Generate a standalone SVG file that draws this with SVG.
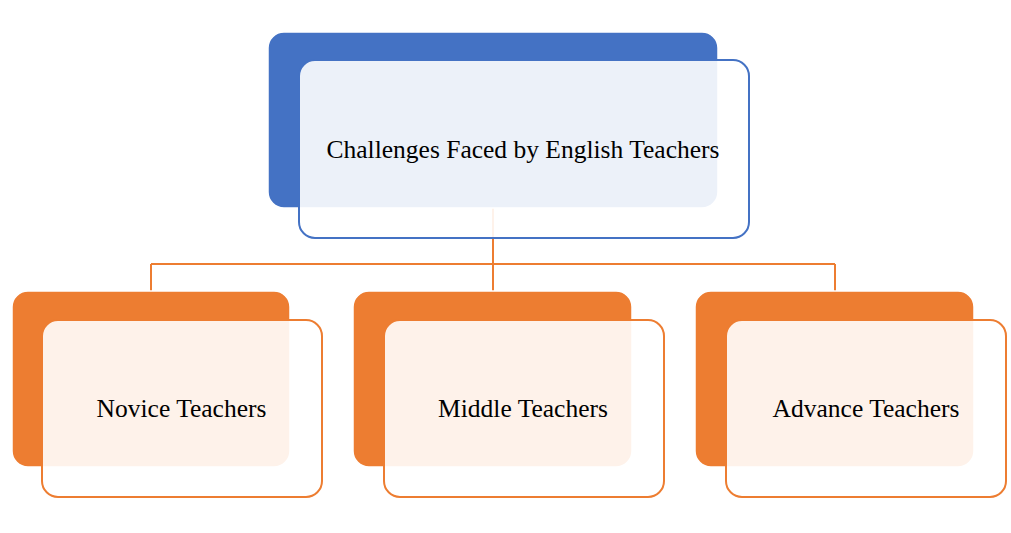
<svg xmlns="http://www.w3.org/2000/svg" width="1011" height="533" viewBox="0 0 1011 533">
<style>
.bg{fill:#ffffff}
.backB{fill:#4472C4;stroke:#ffffff;stroke-width:1.5}
.frontB{fill:#ffffff;fill-opacity:0.9;stroke:#4472C4;stroke-width:2}
.backO{fill:#ED7D31;stroke:#ffffff;stroke-width:1.5}
.frontO{fill:#ffffff;fill-opacity:0.9;stroke:#ED7D31;stroke-width:2}
.conn{fill:none;stroke:#ED7D31;stroke-width:2}
text{font-family:'Liberation Serif','Times New Roman','DejaVu Serif',serif;font-size:25.5px;fill:#000000}
</style>
<rect class="bg" x="0" y="0" width="1011" height="533"/>
<g id="connectors">
<path class="conn" d="M493 208 V264 M151 264 H835 M151 264 V291 M493 264 V291 M835 264 V291"/>
</g>
<g id="node-root">
<rect class="backB" x="268" y="32" width="450" height="176" rx="16"/>
<rect class="frontB" x="299" y="60" width="450" height="178" rx="16"/>
<text x="523" y="158" text-anchor="middle" font-family="Liberation Serif, serif">Challenges Faced by English Teachers</text>
</g>
<g id="node-novice">
<rect class="backO" x="12" y="291" width="278" height="176" rx="16"/>
<rect class="frontO" x="42" y="320" width="280" height="177" rx="16"/>
<text x="181.5" y="417" text-anchor="middle" font-family="Liberation Serif, serif">Novice Teachers</text>
</g>
<g id="node-middle">
<rect class="backO" x="353" y="291" width="279" height="176" rx="16"/>
<rect class="frontO" x="384" y="320" width="280" height="177" rx="16"/>
<text x="523" y="417" text-anchor="middle" font-family="Liberation Serif, serif">Middle Teachers</text>
</g>
<g id="node-advance">
<rect class="backO" x="695" y="291" width="279" height="176" rx="16"/>
<rect class="frontO" x="726" y="320" width="280" height="177" rx="16"/>
<text x="866" y="417" text-anchor="middle" font-family="Liberation Serif, serif">Advance Teachers</text>
</g>
</svg>
